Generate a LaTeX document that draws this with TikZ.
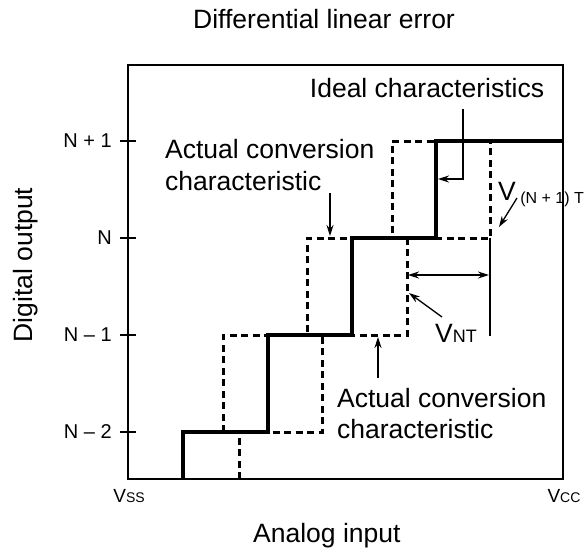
\documentclass[tikz,border=0pt]{standalone}
\usepackage{fontspec}
\setmainfont{Liberation Sans}
\usetikzlibrary{arrows.meta,positioning}

\tikzset{
  frame/.style={line width=1.3pt},
  ideal/.style={line width=3.4pt},
  actual/.style={line width=3pt,dash pattern=on 7pt off 4.5pt},
  pointer/.style={line width=1.3pt},
  lbl/.style={font=\fontsize{26.5}{32}\selectfont,align=left,inner sep=0pt},
  ticklbl/.style={font=\fontsize{20}{22}\selectfont,anchor=east,inner sep=0pt},
  rail/.style={font=\fontsize{19}{22}\selectfont,inner sep=0pt,anchor=base},
}
\newcommand{\lowsub}[2]{{\fontsize{#1}{#1}\selectfont #2}}

\begin{document}
\begin{tikzpicture}[x=1pt,y=-1pt,>={Stealth[length=11pt,width=7pt]}]
  \useasboundingbox (0,0) rectangle (586,550);
  % frame and ticks
  \draw[frame] (128,65) rectangle (563,479);
  \foreach \yy/\lab in {141/N + 1,238/N,335/N – 1,432/N – 2} {
    \draw[frame] (120,\yy) -- (136,\yy);
    \node[ticklbl] (tick\yy) at (112,\yy) {\lab};
  }

  % actual conversion characteristics
  \draw[actual] (239,479) -- (239,432) -- (322,432) -- (322,335) -- (407,335)
    -- (407,238) -- (490,238) -- (490,141);
  \draw[actual] (223,432) -- (223,335) -- (307,335) -- (307,238) -- (392,238)
    -- (392,141) -- (436,141);
  % ideal characteristics
  \draw[ideal] (183,479) -- (183,432) -- (268,432) -- (268,335) -- (352,335)
    -- (352,238) -- (436,238) -- (436,141) -- (563,141);
  \draw[pointer] (490,238) -- (490,336);

  % texts
  \node[lbl,anchor=base west] (title) at (193,28) {Differential linear error};
  \node[lbl,rotate=90,anchor=base] (ylabel) at (32,265) {Digital output};
  \node[lbl,anchor=base west] (xlabel) at (253,542) {Analog input};
  \node[rail] (vss) at (129,502) {V\lowsub{14}{SS}};
  \node[rail] (vcc) at (564,502) {V\lowsub{14}{CC}};
  \node[lbl,anchor=base] (idealLbl) at (427,97) {Ideal characteristics};
  \node[lbl,anchor=base west] (actualTop) at (165,158) {Actual conversion};
  \node[lbl,anchor=base west] (actualTop2) at (165,190) {characteristic};
  \node[lbl,anchor=base west] (actualBot) at (337,407) {Actual conversion};
  \node[lbl,anchor=base west] (actualBot2) at (337,438) {characteristic};
  \node[lbl,anchor=base west] (vntLbl) at (435,342) {V\lowsub{18}{NT}};
  \node[lbl,anchor=base west] (vn1Lbl) at (498,200)
    {V\,\raisebox{-3pt}{\lowsub{16}{(N + 1) T}}};

  % pointers
  \coordinate (idealFrom) at (463,109);
  \coordinate (idealTo) at (438,179);
  \draw[pointer,->] (idealFrom) |- (idealTo);
  \coordinate (topFrom) at (330,193);
  \coordinate (topTo) at (330,236);
  \draw[pointer,->] (topFrom) -- (topTo);
  \coordinate (botFrom) at (378,378);
  \coordinate (botTo) at (378,337);
  \draw[pointer,->] (botFrom) -- (botTo);
  \coordinate (vntFrom) at (442,317);
  \coordinate (vntTo) at (409,293);
  \draw[pointer,->] (vntFrom) -- (vntTo);
  \coordinate (vntLeft) at (408,275);
  \coordinate (vntRight) at (489,275);
  \draw[pointer,<->] (vntLeft) -- (vntRight);
  \coordinate (vn1From) at (517,198);
  \coordinate (vn1To) at (499,227);
  \draw[pointer,->] (vn1From) -- (vn1To);
\end{tikzpicture}
\end{document}
